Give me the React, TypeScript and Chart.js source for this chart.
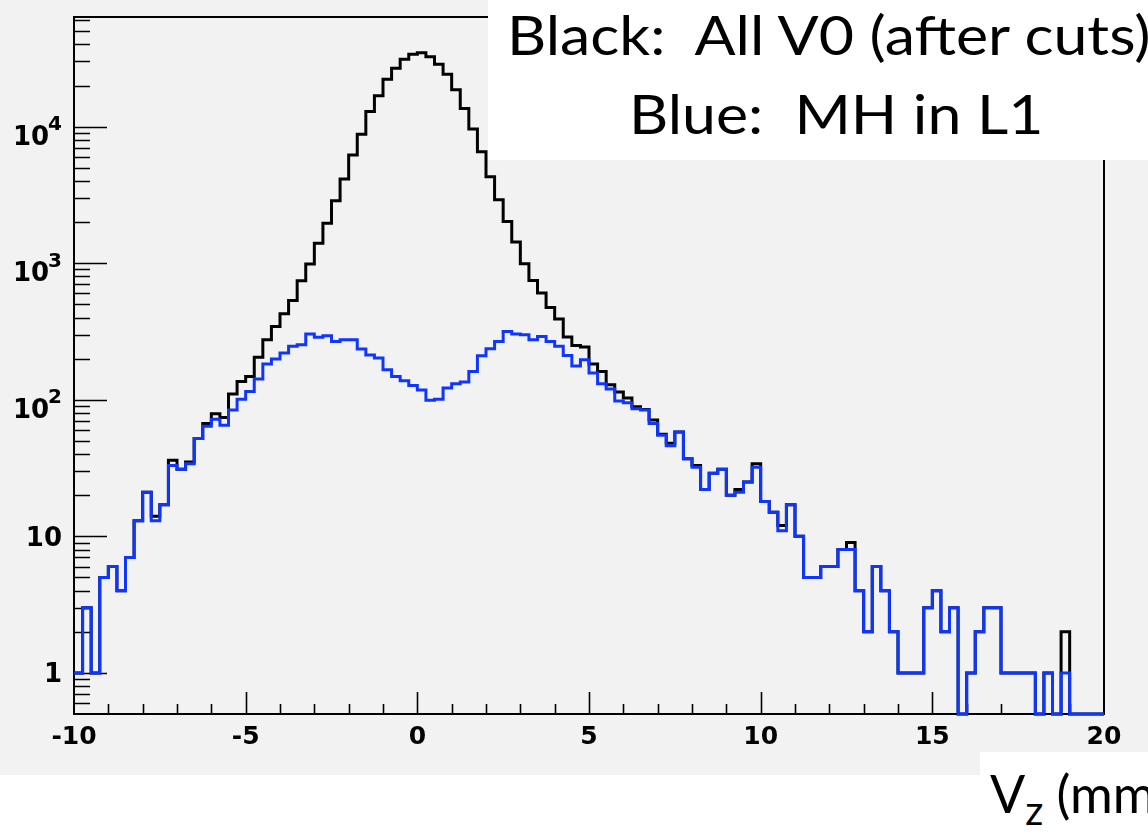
import React, { useEffect, useRef } from 'react';
import { Chart, registerables } from 'chart.js';

Chart.register(...registerables);

// ---- data ----
const X_MIN = -10;
const X_MAX = 20;
const BIN_WIDTH = 0.25;
const Y_MIN = 0.5;
const Y_MAX = 63500;
const X_TICKS = [-10, -5, 0, 5, 10, 15, 20];
const Y_TICK_VALUES = [1, 10, 100, 1000, 10000];
const Y_TICK_BASE = ['1', '10', '10', '10', '10'];
const Y_TICK_EXP = ['', '', '2', '3', '4'];

const blackCounts = [
  1, 3, 1, 5, 6, 4, 7, 13, 21, 14,
  17, 36, 31, 35, 52, 67, 79, 74, 110, 136,
  148, 205, 275, 344, 426, 533, 743, 988, 1400, 1960,
  2860, 4140, 6210, 8790, 12900, 16800, 22200, 26800, 31100, 33900,
  34800, 32500, 28600, 24200, 18600, 13600, 9610, 6560, 4300, 2910,
  2020, 1430, 989, 747, 604, 474, 390, 288, 250, 243,
  183, 161, 129, 114, 103, 89, 85, 71, 56, 48,
  58, 37, 33, 22, 29, 31, 20, 22, 25, 34,
  18, 15, 12, 17, 10, 5, 5, 6, 6, 8,
  9, 4, 2, 6, 4, 2, 1, 1, 1, 3,
  4, 2, 3, 0, 1, 2, 3, 3, 1, 1,
  1, 1, 0, 1, 0, 2, 0, 0, 0, 0,
];

const blueCounts = [
  1, 3, 1, 5, 6, 4, 7, 13, 21, 13,
  17, 33, 31, 34, 52, 64, 72, 65, 84, 101,
  115, 142, 183, 199, 220, 246, 253, 303, 287, 294,
  267, 275, 275, 235, 213, 202, 166, 148, 138, 127,
  118, 99, 101, 122, 131, 135, 161, 210, 236, 267,
  316, 303, 299, 275, 291, 267, 246, 211, 177, 196,
  157, 131, 120, 98, 95, 86, 84, 67, 55, 46,
  58, 37, 32, 22, 29, 31, 20, 21, 25, 32,
  18, 15, 11, 17, 10, 5, 5, 6, 6, 8,
  8, 4, 2, 6, 4, 2, 1, 1, 1, 3,
  4, 2, 3, 0, 1, 2, 3, 3, 1, 1,
  1, 1, 0, 1, 0, 1, 0, 0, 0, 0,
];

const TITLE_LINE_1 = 'Black:  All V0 (after cuts)';
const TITLE_LINE_2 = 'Blue:  MH in L1';
const X_TITLE_MAIN = 'V';
const X_TITLE_SUB = 'z';
const X_TITLE_REST = ' (mm)';

// ---- style ----
const W = 1148;
const H = 835;
const GRAY = '#f2f2f2';
const GRAY_BOTTOM = 775;
const BLUE = '#0f36ff';
const LABEL_FONT = '"DejaVu Sans", "Liberation Sans", sans-serif';
const TITLE_FONT = 'Lato, "Open Sans", sans-serif';
const TITLE_STRETCH = 'scaleX(1.126)';

function histPoints(counts: number[]) {
  const pts = counts.map((c, i) => ({ x: X_MIN + i * BIN_WIDTH, y: c > 0 ? c : Y_MIN }));
  const last = counts[counts.length - 1];
  pts.push({ x: X_MAX, y: last > 0 ? last : Y_MIN });
  return pts;
}

const rootStylePlugin = {
  id: 'rootStyle',
  beforeDraw(chart: any) {
    const ctx = chart.ctx;
    ctx.save();
    ctx.fillStyle = '#ffffff';
    ctx.fillRect(0, 0, chart.width, chart.height);
    ctx.fillStyle = GRAY;
    ctx.fillRect(0, 0, chart.width, GRAY_BOTTOM);
    ctx.restore();
  },
  beforeDatasetsDraw(chart: any) {
    const ctx = chart.ctx;
    const a = chart.chartArea;
    const xs = chart.scales.x;
    const ys = chart.scales.y;
    ctx.save();
    ctx.strokeStyle = '#000';
    ctx.lineWidth = 2;
    ctx.strokeRect(a.left, a.top, a.right - a.left, a.bottom - a.top);
    ctx.lineWidth = 1.6;
    ctx.beginPath();
    for (let v = X_MIN + 1; v < X_MAX; v++) {
      const px = Math.round(xs.getPixelForValue(v)) + 0.5;
      const len = v % 5 === 0 ? 22 : 10;
      ctx.moveTo(px, a.bottom);
      ctx.lineTo(px, a.bottom - len);
    }
    for (let e = -1; e <= 4; e++) {
      for (let m = 1; m <= 9; m++) {
        const v = m * Math.pow(10, e);
        if (v <= Y_MIN || v >= Y_MAX) continue;
        const py = Math.round(ys.getPixelForValue(v)) + 0.5;
        const len = m === 1 ? 33 : 16;
        ctx.moveTo(a.left, py);
        ctx.lineTo(a.left + len, py);
      }
    }
    ctx.stroke();

    // y tick labels (with superscript exponents)
    ctx.fillStyle = '#000';
    ctx.textBaseline = 'alphabetic';
    ctx.textAlign = 'right';
    const right = a.left - 12;
    Y_TICK_VALUES.forEach((v, i) => {
      const py = ys.getPixelForValue(v);
      const exp = Y_TICK_EXP[i];
      if (exp) {
        ctx.font = `bold 20px ${LABEL_FONT}`;
        const ew = ctx.measureText(exp).width;
        ctx.fillText(exp, right, py + 3.5);
        ctx.font = `bold 26px ${LABEL_FONT}`;
        ctx.fillText(Y_TICK_BASE[i], right - ew + 1, py + 18);
      } else {
        ctx.font = `bold 26px ${LABEL_FONT}`;
        ctx.fillText(Y_TICK_BASE[i], right, py + 9.5);
      }
    });
    ctx.restore();
  },
};

export default function App() {
  const canvasRef = useRef<HTMLCanvasElement | null>(null);

  useEffect(() => {
    document.body.style.margin = '0';
    const canvas = canvasRef.current;
    if (!canvas) return;
    const chart = new Chart(canvas, {
      type: 'line',
      data: {
        datasets: [
          {
            label: 'MH in L1',
            data: histPoints(blueCounts),
            borderColor: BLUE,
            borderWidth: 3,
            stepped: 'before',
            pointRadius: 0,
            fill: false,
            order: 0,
            clip: false as any,
            borderJoinStyle: 'miter',
            borderCapStyle: 'butt',
          },
          {
            label: 'All V0 (after cuts)',
            data: histPoints(blackCounts),
            borderColor: '#000000',
            borderWidth: 3,
            stepped: 'before',
            pointRadius: 0,
            fill: false,
            order: 1,
            clip: false as any,
            borderJoinStyle: 'miter',
            borderCapStyle: 'butt',
          },
        ],
      },
      options: {
        responsive: false,
        animation: false,
        devicePixelRatio: 1,
        layout: { padding: { top: 17, right: 44, bottom: 0, left: 0 } },
        plugins: {
          legend: { display: false },
          tooltip: { enabled: false },
          title: { display: false },
        },
        scales: {
          x: {
            type: 'linear',
            min: X_MIN,
            max: X_MAX,
            grid: { display: false, drawTicks: false },
            border: { display: false },
            afterBuildTicks: (scale: any) => {
              scale.ticks = X_TICKS.map((v) => ({ value: v }));
            },
            ticks: {
              color: '#000',
              font: { family: LABEL_FONT, weight: 'bold', size: 25 },
              padding: 8,
              maxRotation: 0,
              autoSkip: false,
              callback: (v: any) => String(v),
            },
            afterFit: (scale: any) => {
              scale.height = 121;
            },
          },
          y: {
            type: 'logarithmic',
            min: Y_MIN,
            max: Y_MAX,
            grid: { display: false, drawTicks: false },
            border: { display: false },
            ticks: { display: false },
            afterFit: (scale: any) => {
              scale.width = 74;
            },
          },
        },
      } as any,
      plugins: [rootStylePlugin],
    });
    return () => chart.destroy();
  }, []);

  const titleStyle: React.CSSProperties = {
    position: 'absolute', whiteSpace: 'pre', fontFamily: TITLE_FONT,
    fontSize: 54, lineHeight: '64.8px', color: '#000',
    transform: TITLE_STRETCH, transformOrigin: 'left top',
  };

  return (
    <div style={{ position: 'absolute', left: 0, top: 0, width: W, height: H, overflow: 'hidden', background: '#fff' }}>
      <canvas ref={canvasRef} width={W} height={H} style={{ display: 'block', width: W, height: H }} />
      <div style={{ position: 'absolute', left: 488, top: 0, width: W - 488, height: 160, background: '#fff', overflow: 'hidden' }}>
        <div style={{ ...titleStyle, left: 507 - 488, top: 3 }}>{TITLE_LINE_1}</div>
        <div style={{ ...titleStyle, left: 629 - 488, top: 82 }}>{TITLE_LINE_2}</div>
      </div>
      <div style={{ position: 'absolute', left: 980, top: 752, width: W - 980, height: H - 752, background: '#fff', overflow: 'hidden' }}>
        <div
          style={{
            position: 'absolute', left: 10, top: 10, whiteSpace: 'pre', fontFamily: TITLE_FONT,
            fontSize: 52, lineHeight: '62.4px', color: '#000',
          }}
        >
          {X_TITLE_MAIN}
          <span style={{ fontSize: 40, verticalAlign: -12 }}>{X_TITLE_SUB}</span>
          {X_TITLE_REST}
        </div>
      </div>
    </div>
  );
}
